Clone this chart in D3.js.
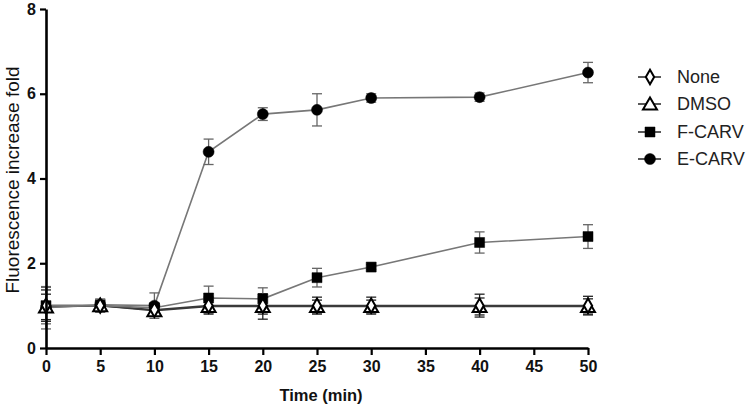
<!DOCTYPE html>
<html>
<head>
<meta charset="utf-8">
<script src="https://cdn.jsdelivr.net/npm/d3@7"></script>
<style>
  html, body { margin: 0; padding: 0; background: #fff; }
  svg { display: block; font-family: "Liberation Sans", Arial, Helvetica, sans-serif; }
</style>
</head>
<body>
<svg id="chart" width="750" height="408"></svg>
<script>
const times = [0, 5, 10, 15, 20, 25, 30, 40, 50];
const xTicks = [0, 5, 10, 15, 20, 25, 30, 35, 40, 45, 50];
const yTicks = [0, 2, 4, 6, 8];
const seriesNames = ["None", "DMSO", "F-CARV", "E-CARV"];

const noneMean = [1.0, 1.0, 0.9, 1.0, 1.0, 1.0, 1.0, 1.0, 1.0];
const noneErr  = [0.37, 0.15, 0.1, 0.2, 0.2, 0.2, 0.2, 0.27, 0.22];
const dmsoMean = [0.97, 1.0, 0.88, 0.98, 0.98, 0.98, 0.98, 0.98, 0.98];
const dmsoErr  = [0.3, 0.12, 0.12, 0.15, 0.3, 0.15, 0.15, 0.2, 0.18];
const fcarvMean = [1.0, 1.0, 0.95, 1.18, 1.16, 1.66, 1.91, 2.49, 2.63];
const fcarvErr  = [0.43, 0.15, 0.1, 0.28, 0.26, 0.22, 0.06, 0.25, 0.28];
const ecarvMean = [0.95, 1.02, 1.0, 4.63, 5.52, 5.62, 5.9, 5.92, 6.5];
const ecarvErr  = [0.5, 0.12, 0.3, 0.3, 0.15, 0.38, 0.1, 0.1, 0.24];

const svg = d3.select("#chart");
const x = d3.scaleLinear().domain([0, 50]).range([46, 588]);
const y = d3.scaleLinear().domain([0, 8]).range([348, 9]);

const series = [
  { name: seriesNames[0], mean: noneMean, err: noneErr, shape: "diamond", fill: "#fff", line: "#3a3a3a", errColor: "#222" },
  { name: seriesNames[1], mean: dmsoMean, err: dmsoErr, shape: "triangle", fill: "#fff", line: "#3a3a3a", errColor: "#222" },
  { name: seriesNames[2], mean: fcarvMean, err: fcarvErr, shape: "square", fill: "#000", line: "#777", errColor: "#666" },
  { name: seriesNames[3], mean: ecarvMean, err: ecarvErr, shape: "circle", fill: "#000", line: "#777", errColor: "#666" }
];

const symbolMap = {
  diamond: d3.symbol().type(d3.symbolDiamond).size(60),
  triangle: d3.symbol().type(d3.symbolTriangle).size(85),
  square: d3.symbol().type(d3.symbolSquare).size(100),
  circle: d3.symbol().type(d3.symbolCircle).size(95)
};

const line = d3.line().x((d, i) => x(times[i])).y(d => y(d));

// lines
series.forEach(s => {
  svg.append("path")
    .attr("d", line(s.mean))
    .attr("fill", "none")
    .attr("stroke", s.line)
    .attr("stroke-width", 1.6);
});

// error bars
series.forEach(s => {
  const g = svg.append("g").attr("stroke", s.errColor).attr("stroke-width", 1.3).attr("fill", "none");
  s.mean.forEach((m, i) => {
    const cx = x(times[i]);
    const top = y(m + s.err[i]), bot = y(m - s.err[i]);
    g.append("line").attr("x1", cx).attr("x2", cx).attr("y1", top).attr("y2", bot);
    g.append("line").attr("x1", cx - 5).attr("x2", cx + 5).attr("y1", top).attr("y2", top);
    g.append("line").attr("x1", cx - 5).attr("x2", cx + 5).attr("y1", bot).attr("y2", bot);
  });
});

// markers
series.slice().reverse().forEach(s => {
  svg.append("g").selectAll("path").data(s.mean).join("path")
    .attr("d", symbolMap[s.shape])
    .attr("transform", (d, i) => `translate(${x(times[i])},${y(d) + (s.shape === "triangle" ? 1.5 : 0)})`)
    .attr("fill", s.fill)
    .attr("stroke", "#000")
    .attr("stroke-width", s.fill === "#fff" ? 2 : 0.5);
});

// axes
const xAxis = d3.axisBottom(x).tickValues(xTicks).tickSize(7).tickPadding(6).tickSizeOuter(0);
const yAxis = d3.axisLeft(y).tickValues(yTicks).tickSize(6).tickPadding(4).tickSizeOuter(0);

const gx = svg.append("g").attr("transform", "translate(0,348)").call(xAxis);
const gy = svg.append("g").attr("transform", "translate(46,0)").call(yAxis);
[gx, gy].forEach(g => {
  g.select(".domain").attr("stroke", "#000").attr("stroke-width", 2.6);
  g.selectAll(".tick line").attr("stroke", "#000").attr("stroke-width", 2.2);
  g.selectAll(".tick text").attr("fill", "#111").attr("font-size", 16).attr("font-weight", "bold")
    .attr("font-family", "'Liberation Sans', Arial, sans-serif");
});

// axis titles
svg.append("text")
  .attr("x", 321).attr("y", 401)
  .attr("text-anchor", "middle")
  .attr("font-size", 16.5).attr("font-weight", "bold").attr("fill", "#111")
  .text("Time (min)");

svg.append("text")
  .attr("transform", "translate(19,180) rotate(-90)")
  .attr("text-anchor", "middle")
  .attr("font-size", 19).attr("fill", "#111")
  .text("Fluorescence increase fold");

// legend
const legendY = [77, 104, 132, 159];
series.forEach((s, i) => {
  const g = svg.append("g").attr("transform", `translate(0,${legendY[i]})`);
  g.append("line").attr("x1", 638).attr("x2", 661).attr("y1", 0).attr("y2", 0)
    .attr("stroke", "#222").attr("stroke-width", 1.5);
  g.append("path").attr("d", symbolMap[s.shape])
    .attr("transform", `translate(650,${s.shape === "triangle" ? 1.5 : 0})`)
    .attr("fill", s.fill).attr("stroke", "#000")
    .attr("stroke-width", s.fill === "#fff" ? 2 : 0.5);
  g.append("text").attr("x", 677).attr("y", 0).attr("dy", "0.35em")
    .attr("font-size", 18).attr("fill", "#222").text(s.name);
});
</script>
</body>
</html>
